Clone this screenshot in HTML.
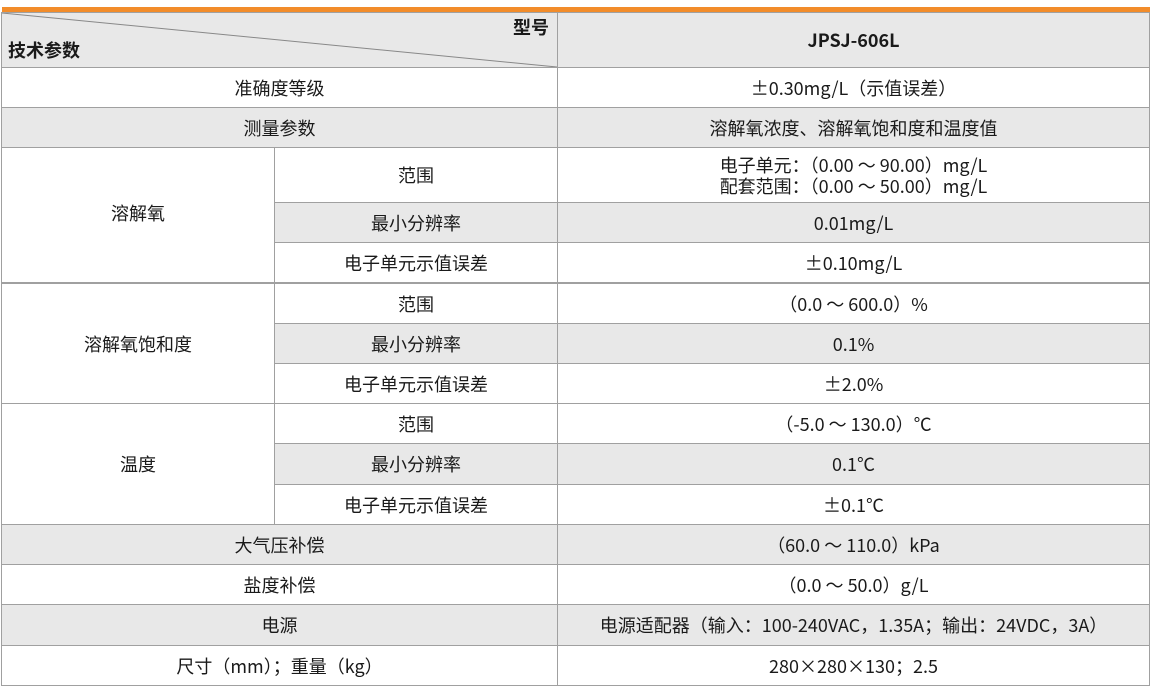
<!DOCTYPE html>
<html><head><meta charset="utf-8"><style>
body{margin:0;width:1159px;height:694px;background:#fff;position:relative;overflow:hidden;font-family:"Noto Sans CJK SC","Liberation Sans",sans-serif;color:#1a1a1a}
.c{position:absolute;box-sizing:border-box;border:1px solid #a0a0a0;display:flex;align-items:center;justify-content:center;text-align:center;font-size:18px;line-height:21px;margin:-1px 0 0 -1px;padding-top:1px}
.g{background:#e8e8e8}
</style></head><body>
<div style="position:absolute;left:2px;top:7px;width:1148px;height:6px;background:#f28c2a"></div>
<div class="c g" style="left:2px;top:13px;width:557px;height:56px;display:block">
<svg width="555" height="54" style="position:absolute;left:0;top:0"><line x1="0" y1="0" x2="555" y2="54" stroke="#888" stroke-width="1"/></svg>
<span style="position:absolute;right:8px;top:4px;font-weight:bold">型号</span>
<span style="position:absolute;left:6px;top:27px;font-weight:bold">技术参数</span></div>
<div class="c g" style="left:558px;top:13px;width:593px;height:56px;font-weight:bold">JPSJ-606L</div>

<div class="c" style="left:2px;top:68px;width:557px;height:41px">准确度等级</div>
<div class="c" style="left:558px;top:68px;width:593px;height:41px">±0.30mg/L（示值误差）</div>
<div class="c g" style="left:2px;top:108px;width:557px;height:41px">测量参数</div>
<div class="c g" style="left:558px;top:108px;width:593px;height:41px">溶解氧浓度、溶解氧饱和度和温度值</div>

<div class="c" style="left:2px;top:148px;width:274px;height:136px;padding-bottom:4px">溶解氧</div>
<div class="c" style="left:275px;top:148px;width:284px;height:56px">范围</div>
<div class="c" style="left:558px;top:148px;width:593px;height:56px">电子单元：（0.00 ～ 90.00）mg/L<br>配套范围：（0.00 ～ 50.00）mg/L</div>
<div class="c g" style="left:275px;top:203px;width:284px;height:41px">最小分辨率</div>
<div class="c g" style="left:558px;top:203px;width:593px;height:41px">0.01mg/L</div>
<div class="c" style="left:275px;top:243px;width:284px;height:41px">电子单元示值误差</div>
<div class="c" style="left:558px;top:243px;width:593px;height:41px">±0.10mg/L</div>

<div class="c" style="left:2px;top:284px;width:274px;height:121px">溶解氧饱和度</div>
<div class="c" style="left:275px;top:284px;width:284px;height:41px">范围</div>
<div class="c" style="left:558px;top:284px;width:593px;height:41px">（0.0 ～ 600.0）%</div>
<div class="c g" style="left:275px;top:324px;width:284px;height:41px">最小分辨率</div>
<div class="c g" style="left:558px;top:324px;width:593px;height:41px">0.1%</div>
<div class="c" style="left:275px;top:364px;width:284px;height:41px">电子单元示值误差</div>
<div class="c" style="left:558px;top:364px;width:593px;height:41px">±2.0%</div>

<div class="c" style="left:2px;top:404px;width:274px;height:122px">温度</div>
<div class="c" style="left:275px;top:404px;width:284px;height:41px">范围</div>
<div class="c" style="left:558px;top:404px;width:593px;height:41px">（-5.0 ～ 130.0）℃</div>
<div class="c g" style="left:275px;top:444px;width:284px;height:42px">最小分辨率</div>
<div class="c g" style="left:558px;top:444px;width:593px;height:42px">0.1℃</div>
<div class="c" style="left:275px;top:485px;width:284px;height:41px">电子单元示值误差</div>
<div class="c" style="left:558px;top:485px;width:593px;height:41px">±0.1℃</div>

<div class="c g" style="left:2px;top:525px;width:557px;height:41px">大气压补偿</div>
<div class="c g" style="left:558px;top:525px;width:593px;height:41px">（60.0 ～ 110.0）kPa</div>
<div class="c" style="left:2px;top:565px;width:557px;height:41px">盐度补偿</div>
<div class="c" style="left:558px;top:565px;width:593px;height:41px">（0.0 ～ 50.0）g/L</div>
<div class="c g" style="left:2px;top:605px;width:557px;height:42px">电源</div>
<div class="c g" style="left:558px;top:605px;width:593px;height:42px">电源适配器（输入：100-240VAC，1.35A；输出：24VDC，3A）</div>
<div class="c" style="left:2px;top:646px;width:557px;height:41px">尺寸（mm）；重量（kg）</div>
<div class="c" style="left:558px;top:646px;width:593px;height:41px">280×280×130；2.5</div>
</body></html>
